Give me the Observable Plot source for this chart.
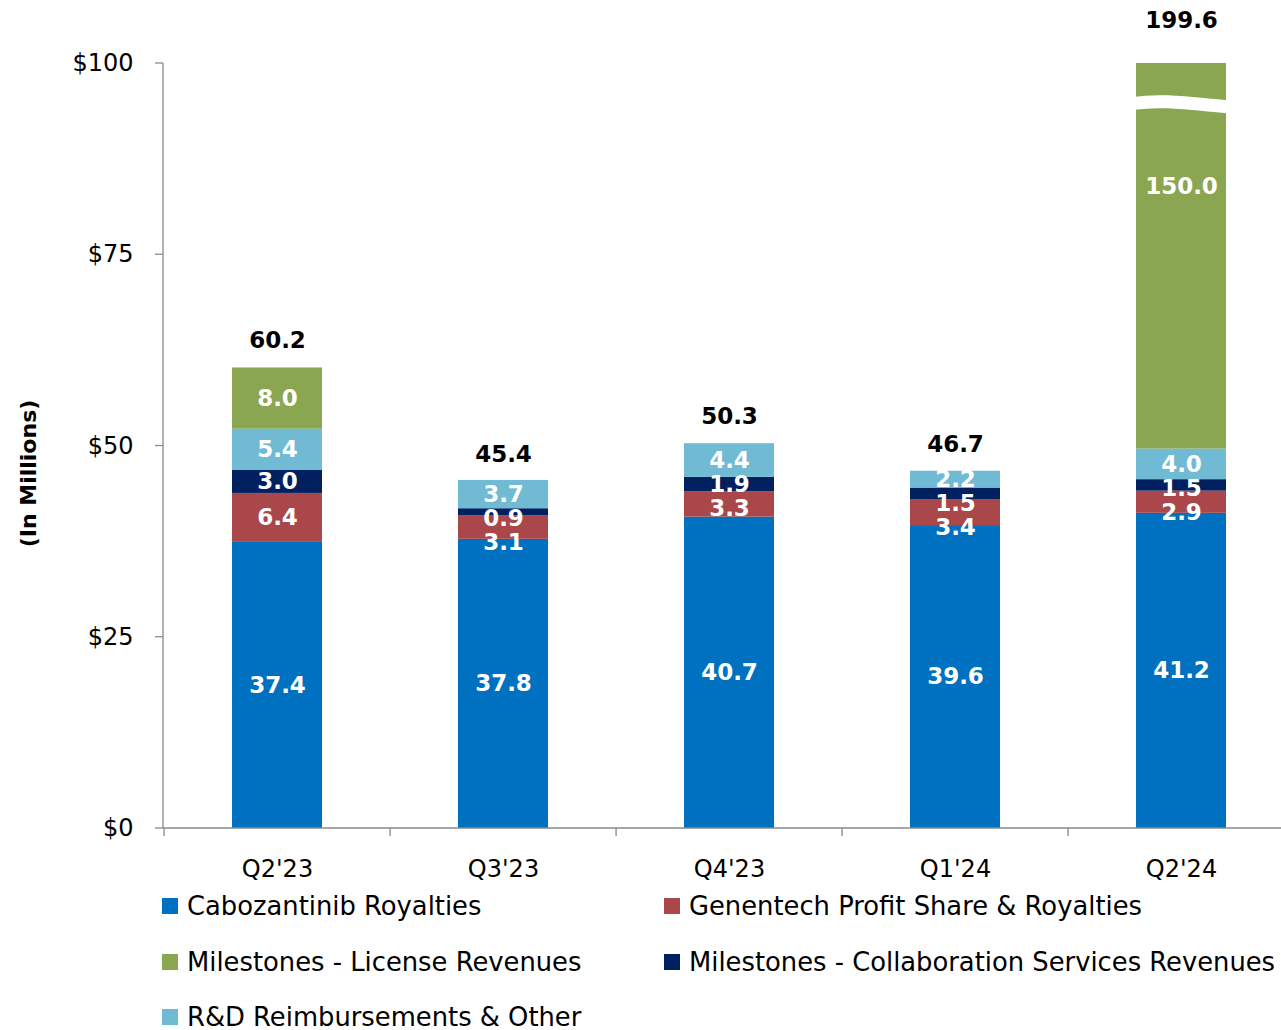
<!DOCTYPE html>
<html><head><meta charset="utf-8">
<script src="https://cdn.jsdelivr.net/npm/d3@7"></script>
<script src="https://cdn.jsdelivr.net/npm/@observablehq/plot@0.6"></script>
<style>
body{margin:0;background:#fff;font-family:"DejaVu Sans",sans-serif;}
#chart svg{display:block;overflow:hidden}
#legend{position:relative;height:138px;width:1281px}
.item{position:absolute;display:flex;align-items:center;height:24px;line-height:24px;font-size:25.8px;color:#000;white-space:nowrap}
.sw{width:16px;height:16px;margin-right:9px}
</style></head><body><div id="chart"></div><div id="legend"></div>
<script>
const quarters = ["Q2'23","Q3'23","Q4'23","Q1'24","Q2'24"];
const series = ["Cabozantinib Royalties","Genentech Profit Share & Royalties","Milestones - Collaboration Services Revenues","R&D Reimbursements & Other","Milestones - License Revenues"];
const cabozantinib = [37.4,37.8,40.7,39.6,41.2];
const genentech = [6.4,3.1,3.3,3.4,2.9];
const collabMilestones = [3.0,0.9,1.9,1.5,1.5];
const rdReimbursements = [5.4,3.7,4.4,2.2,4.0];
const licenseMilestones = [8.0,0,0,0,150.0];
const totals = [60.2,45.4,50.3,46.7,199.6];
const colors = ["#0070C0","#A9474A","#002060","#71BAD3","#8BA650"];
const yTicks = [0,25,50,75,100];
const legendRows = [["Cabozantinib Royalties","Genentech Profit Share & Royalties"],["Milestones - License Revenues","Milestones - Collaboration Services Revenues"],["R&D Reimbursements & Other"]];

const seriesValues = [cabozantinib, genentech, collabMilestones, rdReimbursements, licenseMilestones];
const yMax = 100;
const breakAt = 94.6;
const W = 1281, H = 892, mL = 163, mR = -14, mT = 63, mB = 64;

const rows = [];
quarters.forEach((q, i) => {
  let base = 0;
  seriesValues.forEach((arr, s) => {
    const v = arr[i];
    if (v > 0) {
      const y1 = base, y2 = base + v;
      rows.push({q, s: series[s], v, y1, y2, ly: y2 > yMax ? y1 + (yMax - y1) * 0.68 : (y1 + y2) / 2});
    }
    base += v;
  });
});

// label dodge inside each bar: keep upper labels, push crowded lower ones down
const pxPerUnit = (H - mB - mT) / yMax;
const minGap = 24 / pxPerUnit;
quarters.forEach(q => {
  const labs = rows.filter(d => d.q === q).sort((a, b) => b.ly - a.ly);
  for (let k = 1; k < labs.length; k++) {
    labs[k].ly = Math.min(labs[k].ly, labs[k - 1].ly - minGap);
  }
});

const totalRows = quarters.map((q, i) => ({q, t: totals[i]}));

function decor(index, scales, values, dims) {
  const g = d3.create("svg:g");
  const x0 = dims.marginLeft, x1 = dims.width - dims.marginRight;
  const step = (x1 - x0) / quarters.length;
  const bw = step * 0.4;
  const yb = scales.y(0), yt = scales.y(yMax);
  const ax = g.append("g").attr("stroke", "#898989").attr("stroke-width", 1.3).attr("fill", "none");
  ax.append("line").attr("x1", x0).attr("x2", x0).attr("y1", yt).attr("y2", yb);
  ax.append("line").attr("x1", x0).attr("x2", Math.min(x1, dims.width)).attr("y1", yb).attr("y2", yb);
  yTicks.forEach(t => ax.append("line").attr("x1", x0 - 8).attr("x2", x0).attr("y1", scales.y(t)).attr("y2", scales.y(t)));
  quarters.forEach(q => {
    const b = scales.x(q) + bw / 2 - step / 2;
    ax.append("line").attr("x1", b).attr("x2", b).attr("y1", yb).attr("y2", yb + 8);
  });
  // axis break on bars exceeding the axis maximum
  totalRows.filter(d => d.t > yMax).forEach(d => {
    const left = scales.x(d.q);
    const L = left - 2, R = left + bw + 2, ym = scales.y(breakAt);
    g.append("path")
      .attr("d", `M${L},${ym - 1} C${L + bw * 0.3},${ym - 5} ${L + bw * 0.6},${ym - 1} ${R},${ym + 2.5}`)
      .attr("fill", "none").attr("stroke", "#fff").attr("stroke-width", 13);
  });
  return g.node();
}

const chart = Plot.plot({
  width: W, height: H,
  marginLeft: mL, marginRight: mR, marginTop: mT, marginBottom: mB,
  style: {fontFamily: "DejaVu Sans", fontSize: "24px", color: "#000", background: "#fff"},
  x: {domain: quarters, paddingInner: 0.6, paddingOuter: 0.3},
  y: {domain: [0, yMax], clamp: true},
  color: {domain: series, range: colors},
  marks: [
    Plot.rectY(rows, {x: "q", y1: "y1", y2: "y2", fill: "s"}),
    decor,
    Plot.text(rows, {x: "q", y: "ly", text: d => d.v.toFixed(1), fill: "white", fontWeight: "bold", fontSize: 23}),
    Plot.text(totalRows.filter(d => d.t <= yMax), {x: "q", y: "t", text: d => d.t.toFixed(1), dy: -27, fill: "#000", fontWeight: "bold", fontSize: 23}),
    Plot.text(totalRows.filter(d => d.t > yMax), {x: "q", y: "t", text: d => d.t.toFixed(1), dy: -43, fill: "#000", fontWeight: "bold", fontSize: 23}),
    Plot.axisY({ticks: yTicks, tickFormat: d => "$" + d, tickSize: 0, tickPadding: 30, label: null, fontSize: 24}),
    Plot.axisX({tickSize: 0, tickPadding: 31, label: null, fontSize: 24}),
    Plot.text(["(In Millions)"], {frameAnchor: "left", rotate: -90, dx: -135, dy: 27.5, textAnchor: "middle", fontWeight: "bold", fontSize: 22, fill: "#000"})
  ]
});
document.getElementById("chart").appendChild(chart);

const legend = document.getElementById("legend");
const colLeft = [162, 664];
legendRows.forEach((row, r) => {
  row.forEach((name, c) => {
    const item = document.createElement("div");
    item.className = "item";
    item.style.left = colLeft[c] + "px";
    item.style.top = (906 - H + r * 55.5 - 12) + "px";
    const sw = document.createElement("div");
    sw.className = "sw";
    sw.style.background = colors[series.indexOf(name)];
    const t = document.createElement("span");
    t.textContent = name;
    item.appendChild(sw); item.appendChild(t);
    legend.appendChild(item);
  });
});
</script></body></html>
